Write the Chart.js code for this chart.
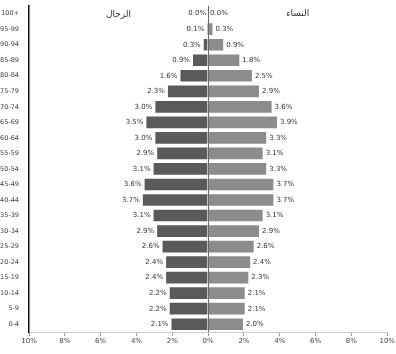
<!DOCTYPE html>
<html>
<head>
<meta charset="utf-8">
<script src="https://cdn.jsdelivr.net/npm/chart.js@4"></script>
<style>
  html, body { margin: 0; padding: 0; background: #fff; }
  #wrap { width: 396px; height: 354px; }
</style>
</head>
<body>
<div id="wrap"><canvas id="pyramid"></canvas></div>
<script>
// age groups, youngest first
const ageGroups = ['0-4', '5-9', '10-14', '15-19', '20-24', '25-29', '30-34', '35-39', '40-44', '45-49',
    '50-54', '55-59', '60-64', '65-69', '70-74', '75-79', '80-84', '85-89', '90-94', '95-99', '100+']
// share of population (%)
const menValues = [2.1, 2.2, 2.2, 2.4, 2.4, 2.6, 2.9, 3.1, 3.7, 3.6,
    3.1, 2.9, 3.0, 3.5, 3.0, 2.3, 1.6, 0.9, 0.3, 0.1, 0.0]
const womenValues = [2.0, 2.1, 2.1, 2.3, 2.4, 2.6, 2.9, 3.1, 3.7, 3.7,
    3.3, 3.1, 3.3, 3.9, 3.6, 2.9, 2.5, 1.8, 0.9, 0.3, 0.0]
const menLabel = 'الرجال'
const womenLabel = 'النساء'
const xTicks = [-10, -8, -6, -4, -2, 0, 2, 4, 6, 8, 10]

// value labels at the bar ends + side titles
const barLabels = {
    id: 'barLabels',
    afterDatasetsDraw(chart) {
        const ctx = chart.ctx
        const x = chart.scales.x
        ctx.save()
        ctx.font = '7px "DejaVu Sans"'
        ctx.fillStyle = '#333'
        ctx.textBaseline = 'middle'
        chart.data.datasets.forEach((ds, i) => {
            const meta = chart.getDatasetMeta(i)
            meta.data.forEach((bar, j) => {
                const v = Math.abs(ds.data[j])
                const txt = v.toFixed(1) + '%'
                if (ds.data[j] < 0 || (i === 0)) {
                    ctx.textAlign = 'right'
                    ctx.fillText(txt, bar.x - 2, bar.y)
                } else {
                    ctx.textAlign = 'left'
                    ctx.fillText(txt, bar.x + 2, bar.y)
                }
            })
        })
        ctx.font = '9px "DejaVu Sans"'
        ctx.textAlign = 'center'
        ctx.fillText(menLabel, x.getPixelForValue(-5), chart.chartArea.top + 9)
        ctx.fillText(womenLabel, x.getPixelForValue(5), chart.chartArea.top + 8)
        ctx.restore()
    }
}

new Chart(document.getElementById('pyramid'), {
    type: 'bar',
    data: {
        labels: ageGroups,
        datasets: [
            {
                label: menLabel,
                data: menValues.map((v) => -v),
                backgroundColor: '#5a5a5a',
                borderColor: 'rgba(255,255,255,0.25)',
                borderWidth: 1,
                barPercentage: 1,
                categoryPercentage: 0.88,
            },
            {
                label: womenLabel,
                data: womenValues,
                backgroundColor: '#8c8c8c',
                borderColor: 'rgba(255,255,255,0.25)',
                borderWidth: 1,
                barPercentage: 1,
                categoryPercentage: 0.88,
            },
        ],
    },
    options: {
        indexAxis: 'y',
        responsive: true,
        maintainAspectRatio: false,
        animation: false,
        layout: { padding: { top: 5, right: 8, left: 0, bottom: 0 } },
        plugins: {
            legend: { display: false },
            tooltip: { enabled: false },
        },
        scales: {
            x: {
                stacked: true,
                min: -10,
                max: 10,
                afterBuildTicks: (scale) => {
                    scale.ticks = xTicks.map((v) => ({ value: v }))
                },
                afterFit: (scale) => {
                    scale.height = 22
                },
                grid: {
                    color: (c) => (c.tick && c.tick.value === 0 ? '#666' : 'transparent'),
                    tickColor: '#999',
                    tickLength: 4,
                },
                border: { color: '#ccc' },
                ticks: {
                    font: { size: 7, family: 'DejaVu Sans' },
                    color: '#444',
                    padding: 1,
                    callback: (v) => Math.abs(v) + '%',
                },
            },
            y: {
                stacked: true,
                reverse: true,
                afterFit: (scale) => {
                    scale.width = 29
                },
                grid: { display: false },
                border: { color: '#111', width: 1.5 },
                ticks: {
                    font: { size: 6.5, family: 'DejaVu Sans' },
                    color: '#444',
                    padding: 2,
                },
            },
        },
    },
    plugins: [barLabels],
})
</script>
</body>
</html>
